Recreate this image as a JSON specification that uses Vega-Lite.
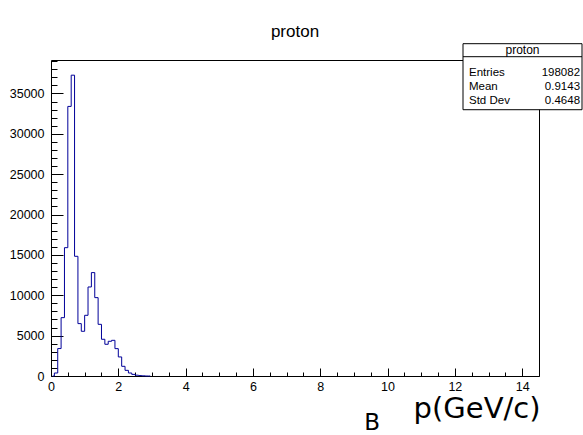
{
  "$schema": "https://vega.github.io/schema/vega-lite/v6.json",
  "width": 488,
  "height": 316,
  "autosize": {"type": "none"},
  "padding": {"left": 51, "top": 60, "right": 44, "bottom": 59},
  "background": "white",
  "title": {"text": "proton", "fontSize": 17, "font": "Liberation Sans", "fontWeight": "normal", "color": "black", "offset": 2, "anchor": "middle"},
  "config": {
    "view": {"stroke": "black", "strokeWidth": 1},
    "font": "Liberation Sans",
    "axis": {"grid": false, "domain": false, "tickColor": "black", "labelColor": "black", "labelFont": "Liberation Sans", "labelFontSize": 12.5, "labelFlush": false, "labelOverlap": false}
  },
  "datasets": {
    "hist": [
      {"p": 0.05, "n": 0}, {"p": 0.15, "n": 370}, {"p": 0.25, "n": 3400}, {"p": 0.35, "n": 7230},
      {"p": 0.45, "n": 15900}, {"p": 0.55, "n": 33400}, {"p": 0.65, "n": 37270}, {"p": 0.75, "n": 14830},
      {"p": 0.85, "n": 6490}, {"p": 0.95, "n": 5540}, {"p": 1.05, "n": 7520}, {"p": 1.15, "n": 11030},
      {"p": 1.25, "n": 12810}, {"p": 1.35, "n": 9710}, {"p": 1.45, "n": 6400}, {"p": 1.55, "n": 4550},
      {"p": 1.65, "n": 3930}, {"p": 1.75, "n": 4300}, {"p": 1.85, "n": 4420}, {"p": 1.95, "n": 3390},
      {"p": 2.05, "n": 2360}, {"p": 2.15, "n": 1200}, {"p": 2.25, "n": 700}, {"p": 2.35, "n": 370},
      {"p": 2.45, "n": 200}, {"p": 2.55, "n": 100}, {"p": 2.65, "n": 50}, {"p": 2.75, "n": 20},
      {"p": 2.85, "n": 0}, {"p": 2.95, "n": 0}
    ],
    "stats": [
      {"name": "proton", "labels": ["Entries", "Mean", "Std Dev"], "values": ["198082", "0.9143", "0.4648"]}
    ],
    "extra": [{"label": "B"}]
  },
  "layer": [
    {
      "data": {"name": "hist"},
      "mark": {"type": "line", "interpolate": "step", "color": "#000099", "strokeWidth": 1},
      "encoding": {
        "x": {"field": "p", "type": "quantitative", "scale": {"domain": [0, 14.5], "nice": false, "zero": false},
              "axis": {"values": [0, 2, 4, 6, 8, 10, 12, 14], "tickSize": -8, "labelPadding": 12, "orient": "bottom",
                       "title": "p(GeV/c)", "titleFont": "DejaVu Sans", "titleFontSize": 29, "titleFontWeight": "normal", "titleColor": "black",
                       "titleAnchor": "end", "titleAlign": "right", "titleBaseline": "alphabetic", "titleX": 489, "titleY": 41}},
        "y": {"field": "n", "type": "quantitative", "scale": {"domain": [0, 39150], "nice": false},
              "axis": {"values": [0, 5000, 10000, 15000, 20000, 25000, 30000, 35000], "format": "d", "tickSize": -12, "labelPadding": 19, "title": null, "orient": "left"}}
      }
    },
    {
      "data": {"name": "stats"},
      "mark": {"type": "rect", "fill": "white", "stroke": "black", "strokeWidth": 1},
      "encoding": {
        "x": {"datum": 12.242, "type": "quantitative",
              "axis": {"values": [0.5,1,1.5,2.5,3,3.5,4.5,5,5.5,6.5,7,7.5,8.5,9,9.5,10.5,11,11.5,12.5,13,13.5,14.5], "tickSize": -4, "labels": false, "title": null, "orient": "bottom"}},
        "x2": {"datum": 15.778},
        "y": {"datum": 41170, "type": "quantitative",
              "axis": {"values": [1000,2000,3000,4000,6000,7000,8000,9000,11000,12000,13000,14000,16000,17000,18000,19000,21000,22000,23000,24000,26000,27000,28000,29000,31000,32000,33000,34000,36000,37000,38000,39000], "tickSize": -6, "labels": false, "title": null, "orient": "left"}},
        "y2": {"datum": 32992}
      }
    },
    {
      "data": {"name": "stats"},
      "mark": {"type": "rule", "color": "black", "strokeWidth": 1},
      "encoding": {
        "x": {"datum": 12.242, "type": "quantitative", "axis": null},
        "x2": {"datum": 15.778},
        "y": {"datum": 39559, "type": "quantitative", "axis": null}
      }
    },
    {
      "data": {"name": "stats"},
      "mark": {"type": "text", "font": "Liberation Sans", "fontSize": 12, "color": "black", "align": "center", "baseline": "middle"},
      "encoding": {
        "x": {"datum": 14.01, "type": "quantitative", "axis": null},
        "y": {"datum": 40364, "type": "quantitative", "axis": null},
        "text": {"field": "name"}
      }
    },
    {
      "data": {"name": "stats"},
      "mark": {"type": "text", "font": "Liberation Sans", "fontSize": 11.5, "color": "black", "align": "left", "baseline": "alphabetic", "lineHeight": 14.3},
      "encoding": {
        "x": {"datum": 12.42, "type": "quantitative", "axis": null},
        "y": {"datum": 37205, "type": "quantitative", "axis": null},
        "text": {"field": "labels"}
      }
    },
    {
      "data": {"name": "stats"},
      "mark": {"type": "text", "font": "Liberation Sans", "fontSize": 11.5, "color": "black", "align": "right", "baseline": "alphabetic", "lineHeight": 14.3},
      "encoding": {
        "x": {"datum": 15.72, "type": "quantitative", "axis": null},
        "y": {"datum": 37205, "type": "quantitative", "axis": null},
        "text": {"field": "values"}
      }
    },
    {
      "data": {"name": "extra"},
      "mark": {"type": "text", "font": "DejaVu Sans", "fontSize": 23, "color": "black", "align": "center", "baseline": "alphabetic"},
      "encoding": {
        "x": {"datum": 9.54, "type": "quantitative", "axis": null},
        "y": {"datum": -6653, "type": "quantitative", "axis": null},
        "text": {"field": "label"}
      }
    }
  ],
  "resolve": {"axis": {"x": "independent", "y": "independent"}}
}
